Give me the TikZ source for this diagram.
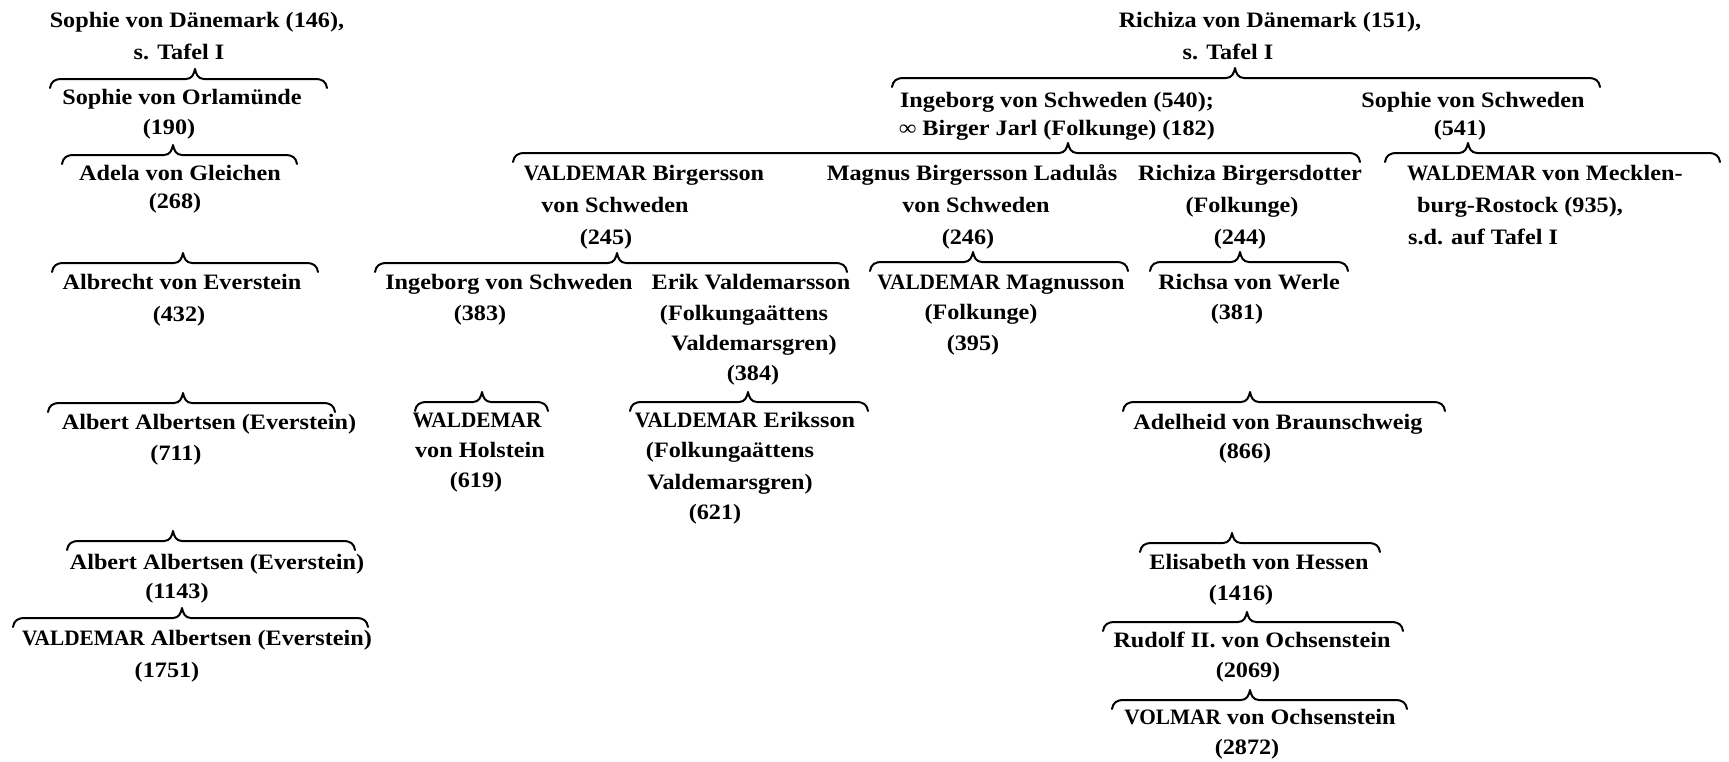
\documentclass[tikz,border=0pt]{standalone}
\usepackage{fontspec}
\usepackage{graphicx}
\setmainfont{Liberation Serif}[FakeStretch=1.1]
\newcommand\cnd[1]{\scalebox{0.88}[1]{#1}}
\tikzset{
  t/.style={inner sep=0pt, text height=15pt, text depth=0pt, font=\fontsize{22}{26}\selectfont\bfseries},
  tw/.style={t, anchor=west},
  brc/.style={line width=2pt, line cap=round, line join=round}
}
\newcommand\famb[4]{%
  \draw[brc] (#1,#4+9) .. controls (#1+1,#4+3) and (#1+4,#4) .. (#1+12,#4)
    -- (#3-9,#4) .. controls (#3-3,#4) and (#3-1,#4-5) .. (#3,#4-10)
    .. controls (#3+1,#4-5) and (#3+3,#4) .. (#3+9,#4)
    -- (#2-12,#4) .. controls (#2-4,#4) and (#2-1,#4+3) .. (#2,#4+9);}
\begin{document}
\begin{tikzpicture}[x=1pt,y=-1pt]
\useasboundingbox (0,0) rectangle (1729,761);
% left column
\node[t] (a1) at (197,20) {Sophie von Dänemark (146),};
\node[t] (a2) at (179,52) {s. Tafel I};
\famb{50}{327}{195}{79}
\node[t] (a3) at (182,97) {Sophie von Orlamünde};
\node[t] (a4) at (169,127) {(190)};
\famb{62}{297}{173}{155}
\node[t] (a5) at (180,173) {Adela von Gleichen};
\node[t] (a6) at (175,201) {(268)};
\famb{52}{318}{183}{263}
\node[t] (a7) at (182,282) {Albrecht von Everstein};
\node[t] (a8) at (179,314) {(432)};
\famb{48}{335}{183}{403}
\node[t] (a9) at (209,422) {Albert Albertsen (Everstein)};
\node[t] (a10) at (176,453) {(711)};
\famb{67}{355}{173}{541}
\node[t] (a11) at (217,562) {Albert Albertsen (Everstein)};
\node[t] (a12) at (177,591) {(1143)};
\famb{13}{368}{182}{618}
\node[t] (a13) at (197,638) {\cnd{VALDEMAR} Albertsen (Everstein)};
\node[t] (a14) at (167,670) {(1751)};
% right top
\node[t] (r1) at (1270,20) {Richiza von Dänemark (151),};
\node[t] (r2) at (1228,52) {s. Tafel I};
\famb{892}{1600}{1235}{78}
\node[t] (r3) at (1057,100) {Ingeborg von Schweden (540);};
\node[t] (r4) at (1057,128) {∞ Birger Jarl (Folkunge) (182)};
\node[t] (r5) at (1473,100) {Sophie von Schweden};
\node[t] (r6) at (1460,128) {(541)};
\famb{513}{1360}{1068}{153}
\famb{1385}{1720}{1468}{153}
% children of Ingeborg
\node[t] (m1) at (644,173) {\cnd{VALDEMAR} Birgersson};
\node[t] (m2) at (615,205) {von Schweden};
\node[t] (m3) at (606,237) {(245)};
\node[t] (n1) at (972,173) {Magnus Birgersson Ladulås};
\node[t] (n2) at (976,205) {von Schweden};
\node[t] (n3) at (968,237) {(246)};
\node[t] (p1) at (1250,173) {Richiza Birgersdotter};
\node[t] (p2) at (1242,205) {(Folkunge)};
\node[t] (p3) at (1240,237) {(244)};
\node[tw] (w1) at (1407,173) {\cnd{WALDEMAR} von Mecklen-};
\node[tw] (w2) at (1417,205) {burg-Rostock (935),};
\node[tw] (w3) at (1408,237) {s.d. auf Tafel I};
% grandchildren
\famb{375}{847}{617}{263}
\famb{870}{1128}{973}{262}
\famb{1150}{1348}{1240}{262}
\node[t] (b1) at (509,282) {Ingeborg von Schweden};
\node[t] (b2) at (480,313) {(383)};
\node[t] (e1) at (751,282) {Erik Valdemarsson};
\node[t] (e2) at (744,313) {(Folkungaättens};
\node[t] (e3) at (754,343) {Valdemarsgren)};
\node[t] (e4) at (753,373) {(384)};
\node[t] (g1) at (1001,282) {\cnd{VALDEMAR} Magnusson};
\node[t] (g2) at (981,312) {(Folkunge)};
\node[t] (g3) at (973,343) {(395)};
\node[t] (h1) at (1249,282) {Richsa von Werle};
\node[t] (h2) at (1237,312) {(381)};
% next generation
\famb{415}{548}{482}{402}
\node[t] (c1) at (477,420) {\cnd{WALDEMAR}};
\node[t] (c2) at (480,450) {von Holstein};
\node[t] (c3) at (476,480) {(619)};
\famb{630}{868}{748}{402}
\node[t] (d1) at (745,420) {\cnd{VALDEMAR} Eriksson};
\node[t] (d2) at (730,450) {(Folkungaättens};
\node[t] (d3) at (730,482) {Valdemarsgren)};
\node[t] (d4) at (715,512) {(621)};
\famb{1123}{1445}{1250}{402}
\node[t] (i1) at (1278,422) {Adelheid von Braunschweig};
\node[t] (i2) at (1245,451) {(866)};
\famb{1140}{1380}{1232}{543}
\node[t] (j1) at (1259,562) {Elisabeth von Hessen};
\node[t] (j2) at (1241,593) {(1416)};
\famb{1103}{1403}{1247}{622}
\node[t] (k1) at (1252,640) {Rudolf II. von Ochsenstein};
\node[t] (k2) at (1248,670) {(2069)};
\famb{1112}{1407}{1250}{700}
\node[t] (l1) at (1260,717) {\cnd{VOLMAR} von Ochsenstein};
\node[t] (l2) at (1247,747) {(2872)};
\end{tikzpicture}
\end{document}
